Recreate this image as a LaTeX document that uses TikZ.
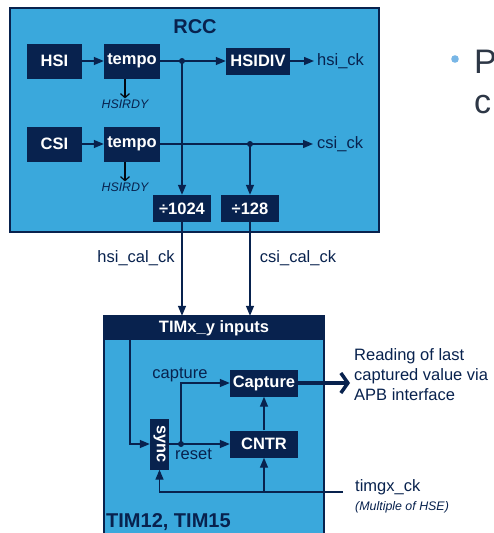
\documentclass[tikz,border=0pt]{standalone}
\usepackage{fontspec}
\setmainfont{Liberation Sans}
\usetikzlibrary{arrows.meta}
\definecolor{navy}{RGB}{8,34,78}
\definecolor{lblue}{RGB}{58,168,220}
\definecolor{bulletblue}{RGB}{120,182,230}
\definecolor{slidegray}{RGB}{45,55,70}
\tikzset{
  blk/.style={fill=navy,text=white,inner sep=0pt,font=\fontsize{16.5}{19}\selectfont\bfseries},
  lbl/.style={text=navy,inner sep=0pt,font=\fontsize{16.5}{19}\selectfont},
  rdy/.style={text=navy,inner sep=0pt,font=\fontsize{12.4}{14}\selectfont\itshape},
  conn/.style={draw=navy,line width=1.4pt},
  arr/.style={conn,-{Triangle[length=10pt,width=8pt]}},
  small/.style={draw=black!80!navy,line width=1.2pt,-{Straight Barb[length=4pt,width=9pt]}},
  jdot/.style={fill=navy},
}
\begin{document}
\begin{tikzpicture}[x=1pt,y=-1pt]
\useasboundingbox (0,0) rectangle (493,533);
\clip (0,0) rectangle (493,533);
\fill[white] (0,0) rectangle (493,533);

% RCC container
\node[draw=navy,line width=2pt,fill=lblue,minimum width=369pt,minimum height=224pt,inner sep=0pt] (rcc) at (194.5,120) {};
\node[text=navy,inner sep=0pt,font=\fontsize{20}{24}\selectfont\bfseries] (rcct) at (195,27) {RCC};

% blocks
\node[blk,minimum width=55pt,minimum height=35pt] (hsi) at (54.5,61) {HSI};
\node[blk,minimum width=56pt,minimum height=35pt] (tempo1) at (132,61) {tempo};
\node[blk,minimum width=64pt,minimum height=27pt] (hsidiv) at (258,61) {HSIDIV};
\node[blk,minimum width=55pt,minimum height=35pt] (csi) at (54.5,144) {CSI};
\node[blk,minimum width=56pt,minimum height=35pt] (tempo2) at (132,144) {tempo};
\node[blk,minimum width=58pt,minimum height=27pt] (div1) at (182,208.5) {÷1024};
\node[blk,minimum width=58pt,minimum height=27pt] (div2) at (250,208.5) {÷128};

\node[lbl,anchor=west] (hsick) at (317,61) {hsi\_ck};
\node[lbl,anchor=west] (csick) at (317,144) {csi\_ck};
\node[rdy] (rdy1) at (125,104) {HSIRDY};
\node[rdy] (rdy2) at (125,187) {HSIRDY};

\coordinate (j1) at (182,61);
\coordinate (j2) at (250,144);

\draw[arr] (hsi) -- (tempo1);
\draw[conn] (tempo1) -- (j1);
\draw[arr] (j1) -- (hsidiv);
\draw[arr] (hsidiv.east) -- ([xshift=-3pt]hsick.west);
\draw[arr] (csi) -- (tempo2);
\draw[conn] (tempo2) -- (j2);
\draw[arr] (j2) -- ([xshift=-4pt]csick.west);
\draw[arr] (j1) -- (div1);
\draw[arr] (j2) -- (div2);
\fill[jdot] (j1) circle (3pt);
\fill[jdot] (j2) circle (3pt);
\draw[small] ([xshift=-7pt]tempo1.south) -- ([yshift=1pt]rdy1.north);
\draw[small] ([xshift=-7pt]tempo2.south) -- ([yshift=1pt]rdy2.north);

% TIM container
\node[draw=navy,line width=2.5pt,fill=lblue,minimum width=220pt,minimum height=229pt,inner sep=0pt] (tim) at (214,430.5) {};
\node[blk,minimum width=220pt,minimum height=24pt] (timhead) at (214,328) {TIMx\_y inputs};
\node[text=navy,inner sep=0pt,anchor=west,font=\fontsize{20}{24}\selectfont\bfseries] (timname) at (106,522) {TIM12, TIM15};

\node[lbl] (hcal) at (136,258) {hsi\_cal\_ck};
\node[lbl] (ccal) at (298,258) {csi\_cal\_ck};
\draw[arr] (div1.south) -- (div1.south |- timhead.north);
\draw[arr] (div2.south) -- (div2.south |- timhead.north);

\node[blk,minimum width=19pt,minimum height=51pt] (sync) at (159.5,444) {};
\node[text=white,inner sep=0pt,rotate=-90,font=\fontsize{16.3}{19}\selectfont\bfseries] (synct) at (sync.center) {sync};
\node[blk,minimum width=68pt,minimum height=27pt] (capt) at (264,383) {Capture};
\node[blk,minimum width=68pt,minimum height=27pt] (cntr) at (264,444) {CNTR};
\node[lbl] (captl) at (180,375) {capture};
\node[lbl] (resetl) at (193.5,454) {reset};

\coordinate (tl) at (130,340);
\coordinate (rdot) at (181,444);
\coordinate (tin) at (343,492);
\coordinate (apb) at (350,383);

\draw[arr] (tl) |- (sync.west);
\draw[conn] (sync) -- (rdot);
\draw[arr] (rdot) -- (cntr);
\draw[arr] (rdot) |- (capt.west);
\fill[jdot] (rdot) circle (3pt);
\draw[arr] (cntr) -- (capt);
\draw[arr] (tin) -| (sync.south);
\draw[arr] (cntr.south |- tin) -- (cntr.south);
\draw[draw=navy,line width=3.5pt,-{Straight Barb[length=7pt,width=20pt]}] (capt.east) -- (apb);

\node[lbl,anchor=west,align=left,font=\fontsize{16.5}{20}\selectfont] (apbt) at (354,375) {Reading of last\\captured value via\\APB interface};
\node[lbl,anchor=west] (timgx) at (355,487) {timgx\_ck};
\node[rdy,anchor=west,font=\fontsize{12.4}{14}\selectfont\itshape] (mult) at (355,507) {(Multiple of HSE)};

% slide text fragments
\fill[bulletblue] (455,59) circle (3.8pt);
\node[text=slidegray,inner sep=0pt,anchor=base west,font=\fontsize{34}{40}\selectfont] (pt) at (474,73) {P};
\node[text=slidegray,inner sep=0pt,anchor=base west,font=\fontsize{34}{40}\selectfont] (ct) at (474,113) {c};
\end{tikzpicture}
\end{document}
